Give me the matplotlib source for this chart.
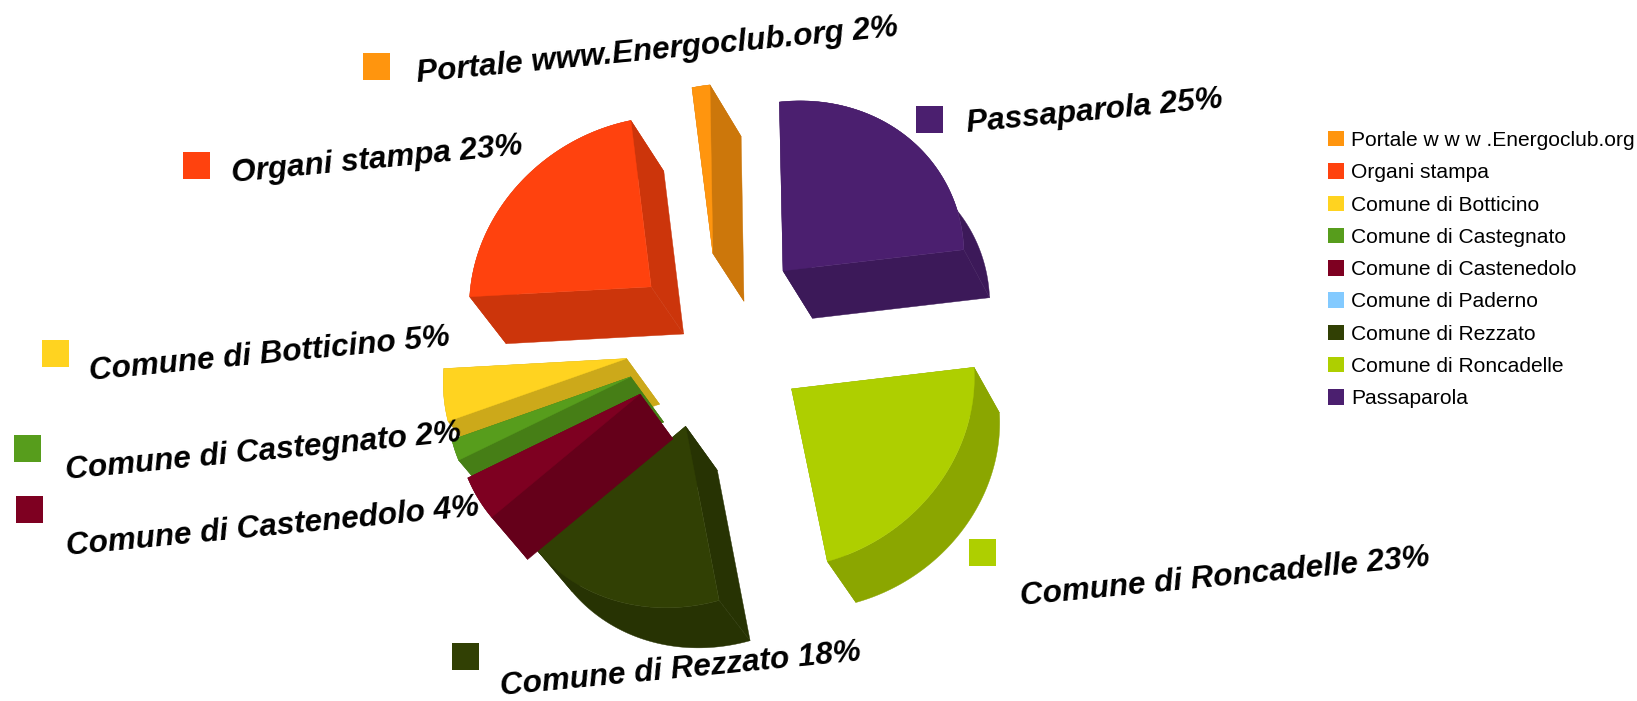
import numpy as np
import matplotlib
matplotlib.use("Agg")
import matplotlib.pyplot as plt
from matplotlib.patches import Polygon, Patch
from matplotlib.colors import to_rgb

# ---- data
categories = ["Portale www.Energoclub.org", "Organi stampa", "Comune di Botticino",
              "Comune di Castegnato", "Comune di Castenedolo", "Comune di Paderno",
              "Comune di Rezzato", "Comune di Roncadelle", "Passaparola"]
legend_labels = ["Portale w w w .Energoclub.org", "Organi stampa", "Comune di Botticino",
                 "Comune di Castegnato", "Comune di Castenedolo", "Comune di Paderno",
                 "Comune di Rezzato", "Comune di Roncadelle", "Passaparola"]
# printed percentages, and the shares
percent_labels = [2, 23, 5, 2, 4, 0, 18, 23, 25]
shares = [1.6, 22.5, 4.9, 2.0, 4.3, 0.0, 17.4, 22.5, 24.9]
colors = ["#FF950E", "#FF420E", "#FFD320", "#579D1C", "#7E0021",
          "#83CAFF", "#314004", "#AECF00", "#4B1F6F"]

# ---- projection of the pie disc to the picture (pixel axes)
CENTER = np.array([719.0, 340.0])
E1 = np.array([182.0, -20.0])
E2 = np.array([-3.0, -172.0])
DEPTH = np.array([31.0, 46.0])
DEPTH_SCALE = 0.978   # the lower rim shrinks towards the vanishing point
EXPLODE = 0.51
SIDE_SHADE = 0.8
START = 90.0
PERSPECTIVE_UP = 0.012
PERSPECTIVE_DOWN = 0.028
NUDGE = {4: np.array([2.0, 2.0])}   # closes the seam between two neighbouring slices

# draw order, back to front
draw_order = [0, 8, 1, 2, 3, 6, 4, 7]

# label layout: centre of text, centre of square
label_pos = {0: (657, 51), 1: (377, 160), 2: (270, 355), 3: (263, 452),
             4: (273, 527), 6: (681, 670), 7: (1225, 577), 8: (1095, 112)}
square_pos = {0: (376, 66), 1: (196, 165), 2: (55, 353), 3: (27, 448),
              4: (29, 509), 6: (465, 656), 7: (982, 552), 8: (929, 119)}
SQUARE = 27
LABEL_ROT = 5.5

plt.rcParams["font.family"] = ["Liberation Sans", "DejaVu Sans"]
fig = plt.figure(figsize=(16.37, 7.01), dpi=100)
ax = fig.add_axes([0, 0, 1, 1])
ax.set_xlim(0, 1637)
ax.set_ylim(701, 0)
ax.axis("off")


def disc(t):
    t = np.radians(t)
    return np.outer(np.cos(t), E1) + np.outer(np.sin(t), E2)


def view(pts):
    pts = np.atleast_2d(pts)
    rel = pts - CENTER
    g = np.where(rel[:, 1:2] > 0, PERSPECTIVE_DOWN, PERSPECTIVE_UP)
    return CENTER + rel * (1 + g * rel[:, 1:2] / 200.0)


def lower(pts):
    return CENTER + (pts - CENTER) * DEPTH_SCALE + DEPTH


vals = np.array(shares, dtype=float)
spans = vals / vals.sum() * 360.0
ends = START + np.cumsum(spans)
starts = ends - spans

for i in draw_order:
    t0, t1 = starts[i], ends[i]
    mid = (t0 + t1) / 2.0
    nudge = NUDGE.get(i, np.zeros(2))
    base = CENTER + EXPLODE * disc([mid])[0] + nudge
    apex = view(base)[0]
    ts = np.linspace(t0, t1, 80)
    arc = view(base + disc(ts))
    top = np.vstack([apex, arc])
    dark = tuple(c * SIDE_SHADE for c in to_rgb(colors[i]))
    # sides: the two radial walls and the curved wall
    for b in (arc[0], arc[-1]):
        ax.add_patch(Polygon(np.vstack([apex, b, lower(b), lower(apex)]), closed=True,
                             fc=dark, ec=dark, lw=0.3))
    ax.add_patch(Polygon(np.vstack([arc, lower(arc)[::-1]]), closed=True, fc=dark, ec=dark, lw=0.3))
    ax.add_patch(Polygon(top, closed=True, fc=colors[i], ec=colors[i], lw=0.3))

for i, (x, y) in label_pos.items():
    ax.text(x, y, f"{categories[i]} {percent_labels[i]}%", fontsize=22.7, fontweight="bold",
            fontstyle="italic", rotation=LABEL_ROT, rotation_mode="anchor",
            ha="center", va="center", color="black")
for i, (x, y) in square_pos.items():
    ax.add_patch(Polygon([(x - SQUARE / 2, y - SQUARE / 2), (x + SQUARE / 2, y - SQUARE / 2),
                          (x + SQUARE / 2, y + SQUARE / 2), (x - SQUARE / 2, y + SQUARE / 2)],
                         closed=True, fc=colors[i], ec="none"))

handles = [Patch(fc=c, ec="none") for c in colors]
ax.legend(handles, legend_labels, loc="upper left", bbox_to_anchor=(1328 / 1637, 1 - 131 / 701),
          bbox_transform=fig.transFigure, frameon=False, fontsize=15.1, borderpad=0, borderaxespad=0,
          handlelength=0.76, handleheight=0.76, handletextpad=0.36, labelspacing=0.63)

fig.savefig("out.png", dpi=100)
